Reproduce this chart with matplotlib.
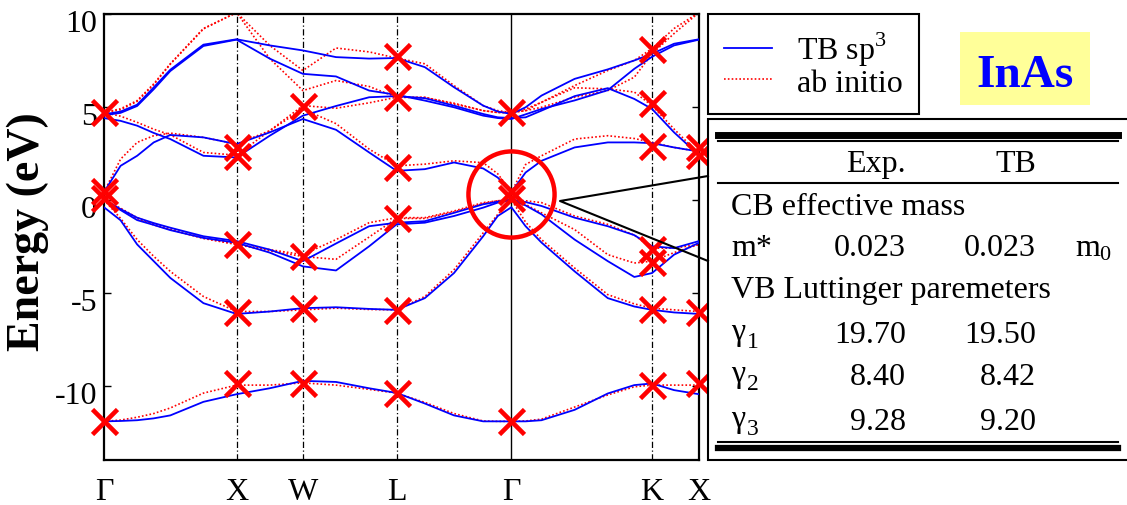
import numpy as np
import matplotlib.pyplot as plt
import matplotlib.transforms as mtransforms
from matplotlib.patches import Rectangle
from matplotlib.lines import Line2D

plt.rcParams['font.family'] = ['Liberation Serif', 'DejaVu Serif']
plt.rcParams['mathtext.fontset'] = 'custom'
plt.rcParams['mathtext.rm'] = 'Liberation Serif'

# k-path (units of 2*pi/a) and sampled band energies (eV)
k_grid = [0.0, 0.125, 0.25, 0.375, 0.5, 0.75, 1.0, 1.25, 1.5, 1.75, 2.0, 2.207,
          2.42, 2.64, 2.86, 2.97, 3.073, 3.18, 3.3, 3.55, 3.8, 4.0, 4.134, 4.3, 4.488]
sym_k = [0.0, 1.0, 1.5, 2.207, 3.073, 4.134, 4.488]
sym_labels = ['Γ', 'X', 'W', 'L', 'Γ', 'K', 'X']

# tight-binding sp3 bands
tb_v1 = [-11.92, -11.90, -11.86, -11.76, -11.60, -10.87, -10.46, -10.14, -9.74, -9.80, -10.14, -10.39,
         -10.96, -11.60, -11.92, -11.92, -11.92, -11.92, -11.86, -11.30, -10.42, -9.97, -9.88, -10.24, -10.46]
tb_v2 = [-0.40, -1.10, -2.40, -3.30, -4.20, -5.56, -6.14, -6.01, -5.83, -5.78, -5.87, -5.92,
         -5.29, -3.94, -1.96, -0.87, -0.40, -1.42, -2.30, -3.85, -5.29, -5.74, -5.92, -6.06, -6.14]
tb_v3 = [0.0, -0.50, -0.96, -1.25, -1.50, -1.96, -2.22, -2.68, -3.30, -2.35, -1.42, -1.23,
         -1.15, -0.70, -0.24, -0.10, 0.0, -0.12, -0.33, -0.96, -1.42, -1.90, -2.50, -2.60, -2.22]
tb_v4 = [0.0, -0.55, -1.09, -1.35, -1.63, -2.05, -2.31, -2.84, -3.58, -3.80, -2.50, -1.32,
         -1.23, -0.87, -0.42, -0.15, 0.0, -0.30, -0.78, -2.14, -3.30, -4.15, -3.94, -2.95, -2.31]
tb_c1 = [0.42, 1.83, 2.37, 3.09, 3.49, 3.36, 3.00, 3.63, 4.35, 3.77, 2.55, 1.56,
         1.65, 2.01, 1.69, 1.20, 0.42, 1.47, 2.10, 2.82, 3.09, 3.09, 3.05, 2.82, 2.60]
tb_c2 = [4.40, 4.25, 3.99, 3.60, 3.27, 2.37, 2.28, 3.45, 4.53, 5.05, 5.52, 5.58,
         5.47, 5.07, 4.62, 4.44, 4.40, 4.44, 4.80, 5.58, 6.01, 5.43, 4.89, 3.63, 2.40]
tb_c3 = [4.55, 4.68, 5.05, 5.95, 6.93, 8.28, 8.62, 7.60, 6.78, 6.64, 5.88, 5.65,
         5.34, 4.98, 4.53, 4.40, 4.35, 4.60, 4.89, 5.35, 5.90, 7.05, 7.70, 8.31, 8.62]
tb_c4 = [4.60, 4.75, 5.12, 6.05, 7.00, 8.35, 8.64, 8.31, 8.04, 7.68, 7.60, 7.63,
         7.14, 6.06, 5.07, 4.75, 4.62, 4.98, 5.61, 6.51, 7.02, 7.50, 7.86, 8.40, 8.64]

# ab initio bands
ab_v1 = [-11.92, -11.85, -11.70, -11.50, -11.20, -10.40, -9.97, -9.97, -9.85, -9.97, -10.20, -10.40,
         -10.90, -11.50, -11.90, -11.92, -11.92, -11.90, -11.80, -11.15, -10.50, -10.06, -9.97, -9.97, -9.97]
ab_v2 = [0.0, -1.00, -2.14, -3.04, -3.85, -5.20, -6.01, -6.01, -5.92, -5.83, -5.90, -5.92,
         -5.20, -3.76, -1.78, -0.78, 0.0, -1.20, -2.14, -3.67, -5.10, -5.60, -5.83, -5.92, -6.01]
ab_v3 = [0.0, -0.45, -0.96, -1.30, -1.57, -2.05, -2.40, -2.68, -2.95, -2.14, -1.23, -0.96,
         -0.96, -0.60, -0.15, -0.05, 0.0, -0.05, -0.15, -0.87, -1.32, -1.90, -2.60, -2.60, -2.40]
ab_v4 = [0.0, -0.50, -1.00, -1.35, -1.60, -2.08, -2.40, -2.75, -3.05, -3.20, -2.00, -1.00,
         -1.00, -0.65, -0.20, -0.05, 0.0, -0.25, -0.70, -1.60, -2.95, -3.40, -3.30, -2.84, -2.40]
ab_c1 = [0.42, 2.19, 3.09, 3.45, 3.59, 3.36, 3.00, 3.72, 4.89, 4.10, 2.73, 1.83,
         1.92, 2.10, 2.00, 1.40, 0.42, 1.90, 2.37, 3.27, 3.45, 3.30, 3.09, 2.82, 2.60]
ab_c2 = [4.70, 4.50, 4.17, 3.80, 3.50, 2.55, 2.40, 3.72, 5.07, 4.93, 5.22, 5.52,
         5.50, 5.20, 4.80, 4.70, 4.70, 4.80, 5.25, 6.03, 5.97, 5.80, 5.07, 3.81, 2.46]
ab_c3 = [4.70, 4.85, 5.30, 6.20, 7.30, 9.20, 10.08, 7.60, 5.88, 6.42, 6.10, 5.52,
         5.52, 5.16, 4.80, 4.70, 4.70, 4.80, 4.98, 5.52, 5.88, 6.60, 7.86, 8.95, 10.08]
ab_c4 = [4.70, 4.90, 5.34, 6.24, 7.32, 9.22, 10.08, 8.31, 6.96, 8.17, 7.96, 7.63,
         7.32, 6.15, 5.07, 4.80, 4.70, 4.89, 5.25, 6.15, 6.96, 7.50, 8.14, 9.22, 10.08]

tb_bands = [tb_v1, tb_v2, tb_v3, tb_v4, tb_c1, tb_c2, tb_c3, tb_c4]
ab_bands = [ab_v1, ab_v2, ab_v3, ab_v4, ab_c1, ab_c2, ab_c3, ab_c4]

# experimental energies at the high-symmetry points
exp_gamma = [-11.92, 0.1, 0.5, 4.72]
exp_x = [-9.88, -6.01, -2.38, 2.36, 2.83]
exp_w = [-9.85, -5.83, -3.0, 5.07]
exp_l = [-10.39, -5.92, -0.96, 1.74, 5.52, 7.74]
exp_k = [-9.97, -5.88, -3.36, -2.65, 2.91, 5.2, 8.14]
exp_x_end = [-9.88, -6.01, 2.4, 2.83]
exp_sets = [(0.0, exp_gamma), (1.0, exp_x), (1.5, exp_w), (2.207, exp_l),
            (3.073, exp_gamma), (4.134, exp_k), (4.488, exp_x_end)]

# band parameters table
mass_exp, mass_tb = 0.023, 0.023
gamma_exp = [19.70, 8.40, 9.28]
gamma_tb = [19.50, 8.42, 9.20]

fig = plt.figure(figsize=(11.27, 5.06), dpi=100)
ax = fig.add_axes([104 / 1127, 45 / 506, 595 / 1127, 446 / 506])

for kv, lab in zip(sym_k[1:-1], sym_labels[1:-1]):
    if lab == 'Γ':
        ax.axvline(kv, color='black', lw=1.0, zorder=1)
    else:
        ax.axvline(kv, color='black', lw=0.9, linestyle=(0, (5, 2, 1, 2)), zorder=1)

for band in ab_bands:
    ax.plot(k_grid, band, color='red', lw=1.2, linestyle=(0, (1, 1.3)), zorder=2)
for band in tb_bands:
    ax.plot(k_grid, band, color='#0000ff', lw=1.3, zorder=3)

for kv, energies in exp_sets:
    ax.plot([kv] * len(energies), energies, 'x', color='red', ms=18, mew=3.3,
            clip_on=False, zorder=5)

# highlight the band edges at Gamma
ax.plot([3.073], [0.3], 'o', ms=62, mfc='none', mec='red', mew=3.2, clip_on=False, zorder=6)

ax.set_xlim(0, 4.488)
ax.set_ylim(-14, 10)
ax.set_yticks([-10, -5, 0, 5, 10])
ax.set_yticklabels(['-10', '-5', '0', '5', '10'])
ax.set_xticks(sym_k)
ax.set_xticklabels(sym_labels)
ax.tick_params(axis='y', direction='in', length=5, width=1, right=True, labelsize=23, pad=5)
ax.tick_params(axis='x', length=0, labelsize=23, pad=12)
for sp in ax.spines.values():
    sp.set_linewidth(1.6)
ax.set_ylabel('Energy (eV)', fontsize=33, fontweight='bold')
ax.yaxis.set_label_coords(-0.093, 0.515)

handles = [Line2D([], [], color='#0000ff', lw=1.3),
           Line2D([], [], color='red', lw=1.2, linestyle=(0, (1, 1.3)))]
leg = ax.legend(handles, ['TB sp$^3$', 'ab initio'], loc='upper left',
                bbox_to_anchor=(708 / 1127, 1 - 15 / 506), bbox_transform=fig.transFigure,
                fancybox=False, edgecolor='black', framealpha=1, fontsize=23,
                handlelength=1.5, handletextpad=0.8, borderpad=0.5, labelspacing=0.0,
                borderaxespad=0)
leg.get_frame().set_linewidth(1.5)

# drawing layer in pixel units for the table and the zoom wedge
ov = fig.add_axes([0, 0, 1, 1], zorder=10)
ov.set_xlim(0, 1127)
ov.set_ylim(506, 0)
ov.axis('off')

ov.plot([708, 560, 708], [177, 202, 262], color='black', lw=1.5)
ov.add_patch(Rectangle((708, 120), 440, 341, fc='white', ec='black', lw=1.5))
ov.add_patch(Rectangle((960, 33), 130, 73, fc='#ffff99', ec='none'))
ov.text(1025, 87, 'InAs', ha='center', va='baseline', fontsize=34, fontweight='bold', color='#0000ff')

ov.plot([718, 1118], [135.8, 135.8], color='black', lw=5)
ov.plot([718, 1118], [141.7, 141.7], color='black', lw=1.5)
ov.plot([718, 1118], [184, 184], color='black', lw=1.5)
ov.plot([718, 1118], [443.3, 443.3], color='black', lw=1.5)
ov.plot([718, 1118], [448.7, 448.7], color='black', lw=4.5)

fs = 23
ov.text(906, 172, 'Exp.', ha='right', va='baseline', fontsize=fs)
ov.text(1036, 172, 'TB', ha='right', va='baseline', fontsize=fs)
ov.text(731, 215, 'CB effective mass', ha='left', va='baseline', fontsize=fs)
ov.text(731, 256, 'm*', ha='left', va='baseline', fontsize=fs)
ov.text(906, 256, f'{mass_exp:.3f}', ha='right', va='baseline', fontsize=fs)
ov.text(1036, 256, f'{mass_tb:.3f}', ha='right', va='baseline', fontsize=fs)
ov.text(1075, 256, 'm', ha='left', va='baseline', fontsize=fs)
ov.text(1099, 260, '0', ha='left', va='baseline', fontsize=16)
ov.text(731, 298, 'VB Luttinger paremeters', ha='left', va='baseline', fontsize=fs)

row_base = [343, 385, 430]
for i, (ge, gt, yb) in enumerate(zip(gamma_exp, gamma_tb, row_base)):
    ov.text(731, yb - 3, 'γ', ha='left', va='baseline', fontsize=fs)
    ov.text(747, yb + 5, str(i + 1), ha='left', va='baseline', fontsize=17)
    ov.text(906, yb, f'{ge:.2f}', ha='right', va='baseline', fontsize=fs)
    ov.text(1036, yb, f'{gt:.2f}', ha='right', va='baseline', fontsize=fs)

# tick labels sit a little below their ticks
shift = mtransforms.ScaledTranslation(0, -0.06, fig.dpi_scale_trans)
for lbl in ax.get_yticklabels():
    lbl.set_transform(lbl.get_transform() + shift)

fig.savefig('out.png', dpi=100)
